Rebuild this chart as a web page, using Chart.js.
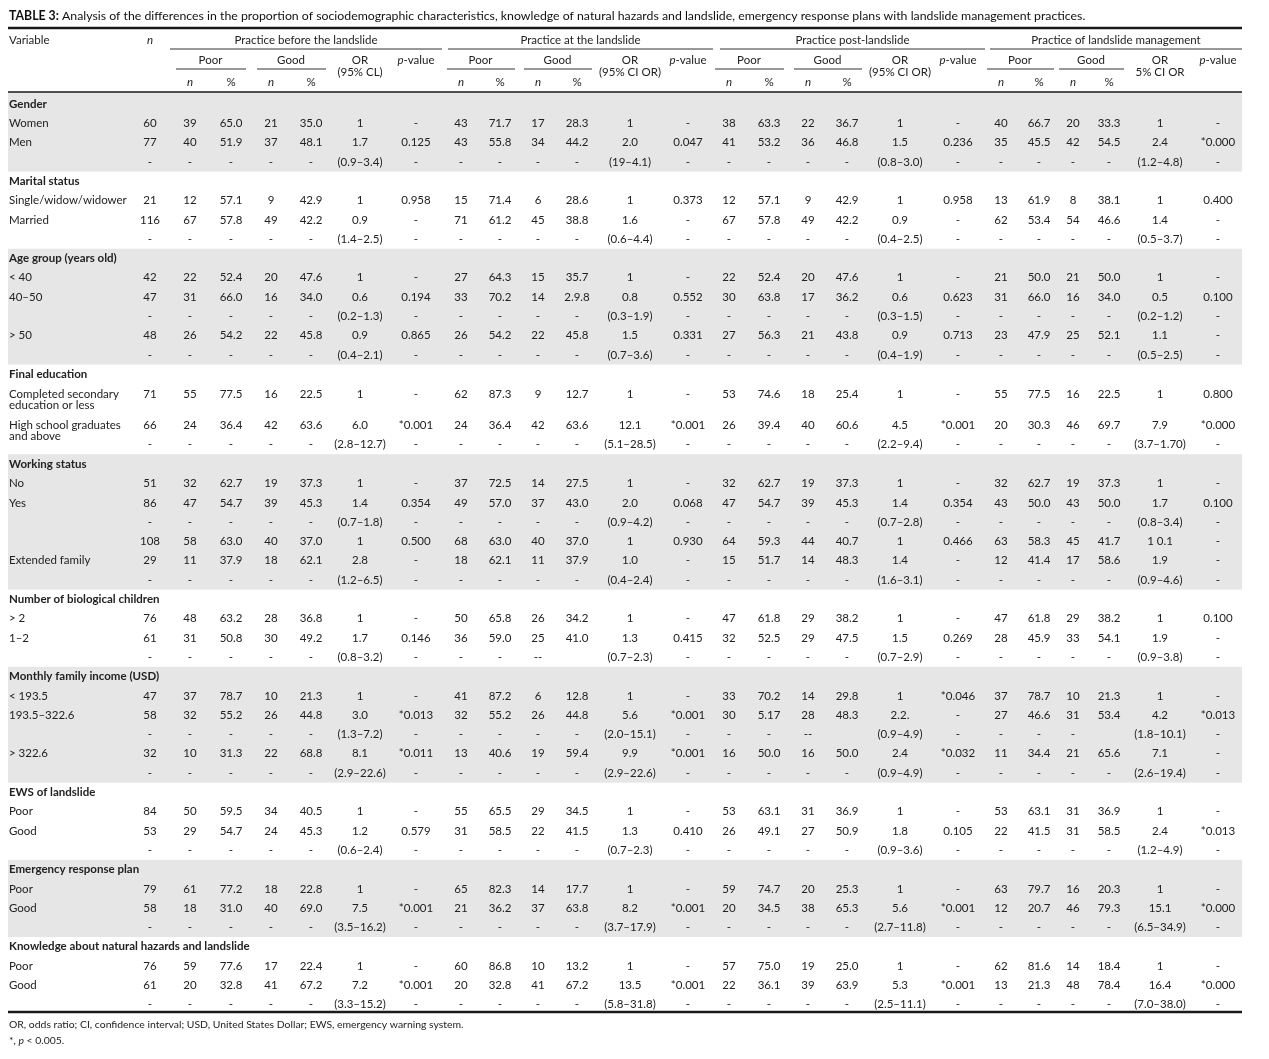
<!DOCTYPE html>
<html>
<head>
<meta charset="utf-8">
<script src="https://cdn.jsdelivr.net/npm/chart.js@4.4.1/dist/chart.umd.min.js"></script>
<style>
  html, body { margin: 0; padding: 0; background: #fff; }
  #wrap { position: relative; width: 1269px; height: 1059px; }
</style>
</head>
<body>
<div id="wrap"><canvas id="table" width="1269" height="1059"></canvas></div>
<script>
// ---- table content ----
const rowLabels = [
  'Gender', 'Women', 'Men', '',
  'Marital status', 'Single/widow/widower', 'Married', '',
  'Age group (years old)', '< 40', '40–50', '', '> 50', '',
  'Final education', 'Completed secondary\neducation or less', 'High school graduates\nand above', '',
  'Working status', 'No', 'Yes', '', '', 'Extended family', '',
  'Number of biological children', '> 2', '1–2', '',
  'Monthly family income (USD)', '< 193.5', '193.5–322.6', '', '> 322.6', '',
  'EWS of landslide', 'Poor', 'Good', '',
  'Emergency response plan', 'Poor', 'Good', '',
  'Knowledge about natural hazards and landslide', 'Poor', 'Good', ''
];

// null = section heading row
const totalN = [
  null, '60', '77', '-',
  null, '21', '116', '-',
  null, '42', '47', '-', '48', '-',
  null, '71', '66', '-',
  null, '51', '86', '-', '108', '29', '-',
  null, '76', '61', '-',
  null, '47', '58', '-', '32', '-',
  null, '84', '53', '-',
  null, '79', '58', '-',
  null, '76', '61', '-'
];

// each row: Poor n, Poor %, Good n, Good %, OR (CI), p-value  ("_" = empty cell)
const practiceBefore = [
  null, '39 65.0 21 35.0 1 -', '40 51.9 37 48.1 1.7 0.125', '- - - - (0.9–3.4) -',
  null, '12 57.1 9 42.9 1 0.958', '67 57.8 49 42.2 0.9 -', '- - - - (1.4–2.5) -',
  null, '22 52.4 20 47.6 1 -', '31 66.0 16 34.0 0.6 0.194', '- - - - (0.2–1.3) -',
  '26 54.2 22 45.8 0.9 0.865', '- - - - (0.4–2.1) -',
  null, '55 77.5 16 22.5 1 -', '24 36.4 42 63.6 6.0 *0.001', '- - - - (2.8–12.7) -',
  null, '32 62.7 19 37.3 1 -', '47 54.7 39 45.3 1.4 0.354', '- - - - (0.7–1.8) -',
  '58 63.0 40 37.0 1 0.500', '11 37.9 18 62.1 2.8 -', '- - - - (1.2–6.5) -',
  null, '48 63.2 28 36.8 1 -', '31 50.8 30 49.2 1.7 0.146', '- - - - (0.8–3.2) -',
  null, '37 78.7 10 21.3 1 -', '32 55.2 26 44.8 3.0 *0.013', '- - - - (1.3–7.2) -',
  '10 31.3 22 68.8 8.1 *0.011', '- - - - (2.9–22.6) -',
  null, '50 59.5 34 40.5 1 -', '29 54.7 24 45.3 1.2 0.579', '- - - - (0.6–2.4) -',
  null, '61 77.2 18 22.8 1 -', '18 31.0 40 69.0 7.5 *0.001', '- - - - (3.5–16.2) -',
  null, '59 77.6 17 22.4 1 -', '20 32.8 41 67.2 7.2 *0.001', '- - - - (3.3–15.2) -'
];

const practiceAt = [
  null, '43 71.7 17 28.3 1 -', '43 55.8 34 44.2 2.0 0.047', '- - - - (19–4.1) -',
  null, '15 71.4 6 28.6 1 0.373', '71 61.2 45 38.8 1.6 -', '- - - - (0.6–4.4) -',
  null, '27 64.3 15 35.7 1 -', '33 70.2 14 2.9.8 0.8 0.552', '- - - - (0.3–1.9) -',
  '26 54.2 22 45.8 1.5 0.331', '- - - - (0.7–3.6) -',
  null, '62 87.3 9 12.7 1 -', '24 36.4 42 63.6 12.1 *0.001', '- - - - (5.1–28.5) -',
  null, '37 72.5 14 27.5 1 -', '49 57.0 37 43.0 2.0 0.068', '- - - - (0.9–4.2) -',
  '68 63.0 40 37.0 1 0.930', '18 62.1 11 37.9 1.0 -', '- - - - (0.4–2.4) -',
  null, '50 65.8 26 34.2 1 -', '36 59.0 25 41.0 1.3 0.415', '- - -- _ (0.7–2.3) -',
  null, '41 87.2 6 12.8 1 -', '32 55.2 26 44.8 5.6 *0.001', '- - - - (2.0–15.1) -',
  '13 40.6 19 59.4 9.9 *0.001', '- - - - (2.9–22.6) -',
  null, '55 65.5 29 34.5 1 -', '31 58.5 22 41.5 1.3 0.410', '- - - - (0.7–2.3) -',
  null, '65 82.3 14 17.7 1 -', '21 36.2 37 63.8 8.2 *0.001', '- - - - (3.7–17.9) -',
  null, '60 86.8 10 13.2 1 -', '20 32.8 41 67.2 13.5 *0.001', '- - - - (5.8–31.8) -'
];

const practicePost = [
  null, '38 63.3 22 36.7 1 -', '41 53.2 36 46.8 1.5 0.236', '- - - - (0.8–3.0) -',
  null, '12 57.1 9 42.9 1 0.958', '67 57.8 49 42.2 0.9 -', '- - - - (0.4–2.5) -',
  null, '22 52.4 20 47.6 1 -', '30 63.8 17 36.2 0.6 0.623', '- - - - (0.3–1.5) -',
  '27 56.3 21 43.8 0.9 0.713', '- - - - (0.4–1.9) -',
  null, '53 74.6 18 25.4 1 -', '26 39.4 40 60.6 4.5 *0.001', '- - - - (2.2–9.4) -',
  null, '32 62.7 19 37.3 1 -', '47 54.7 39 45.3 1.4 0.354', '- - - - (0.7–2.8) -',
  '64 59.3 44 40.7 1 0.466', '15 51.7 14 48.3 1.4 -', '- - - - (1.6–3.1) -',
  null, '47 61.8 29 38.2 1 -', '32 52.5 29 47.5 1.5 0.269', '- - - - (0.7–2.9) -',
  null, '33 70.2 14 29.8 1 *0.046', '30 5.17 28 48.3 2.2. -', '- - -- _ (0.9–4.9) -',
  '16 50.0 16 50.0 2.4 *0.032', '- - - - (0.9–4.9) -',
  null, '53 63.1 31 36.9 1 -', '26 49.1 27 50.9 1.8 0.105', '- - - - (0.9–3.6) -',
  null, '59 74.7 20 25.3 1 -', '20 34.5 38 65.3 5.6 *0.001', '- - - - (2.7–11.8) -',
  null, '57 75.0 19 25.0 1 -', '22 36.1 39 63.9 5.3 *0.001', '- - - - (2.5–11.1) -'
];

const practiceManagement = [
  null, '40 66.7 20 33.3 1 -', '35 45.5 42 54.5 2.4 *0.000', '- - - - (1.2–4.8) -',
  null, '13 61.9 8 38.1 1 0.400', '62 53.4 54 46.6 1.4 -', '- - - - (0.5–3.7) -',
  null, '21 50.0 21 50.0 1 -', '31 66.0 16 34.0 0.5 0.100', '- - - - (0.2–1.2) -',
  '23 47.9 25 52.1 1.1 -', '- - - - (0.5–2.5) -',
  null, '55 77.5 16 22.5 1 0.800', '20 30.3 46 69.7 7.9 *0.000', '- - - - (3.7–1.70) -',
  null, '32 62.7 19 37.3 1 -', '43 50.0 43 50.0 1.7 0.100', '- - - - (0.8–3.4) -',
  '63 58.3 45 41.7 1\u00a00.1 -', '12 41.4 17 58.6 1.9 -', '- - - - (0.9–4.6) -',
  null, '47 61.8 29 38.2 1 0.100', '28 45.9 33 54.1 1.9 -', '- - - - (0.9–3.8) -',
  null, '37 78.7 10 21.3 1 -', '27 46.6 31 53.4 4.2 *0.013', '- - - _ (1.8–10.1) -',
  '11 34.4 21 65.6 7.1 -', '- - - - (2.6–19.4) -',
  null, '53 63.1 31 36.9 1 -', '22 41.5 31 58.5 2.4 *0.013', '- - - - (1.2–4.9) -',
  null, '63 79.7 16 20.3 1 -', '12 20.7 46 79.3 15.1 *0.000', '- - - - (6.5–34.9) -',
  null, '62 81.6 14 18.4 1 -', '13 21.3 48 78.4 16.4 *0.000', '- - - - (7.0–38.0) -'
];

const groupTitles = ['Practice before the landslide', 'Practice at the landslide',
  'Practice post-landslide', 'Practice of landslide management'];
const orHeaders = [['OR', '(95% CL)'], ['OR', '(95% CI OR)'], ['OR', '(95% CI OR)'], ['OR', '5% CI OR']];
const titleBold = 'TABLE 3:';
const titleText = ' Analysis of the differences in the proportion of sociodemographic characteristics, knowledge of natural hazards and landslide, emergency response plans with landslide management practices.';
const footnote = 'OR, odds ratio; CI, confidence interval; USD, United States Dollar; EWS, emergency warning system.';

// ---- layout ----
const PAGE_W = 1269, PAGE_H = 1059;
const LEFT = 8, RIGHT = 1242;
const LABEL_X = 9, N_X = 150;
const GROUP_COLS = [
  [190, 231, 271, 311, 360, 416],
  [461, 500, 538, 577, 630, 688],
  [729, 769, 808, 847, 900, 958],
  [1001, 1039, 1073, 1109, 1160, 1218]
];
const GROUP_SPAN = [[170, 442], [448, 713], [720, 985], [990, 1242]];
const Y = { title: 16, topRule: 28, h1: 40, h1Rule: 49, h2: 60, h2Rule: 69, h3: 82, headRule: 92, bottomRule: 1012, foot1: 1025, foot2: 1041 };
const FIRST_ROW_Y = 104, ROW_STEP = 19.3, LINE_H = 11.5;
const EXTRA_GAP = { 15: 0.7, 16: 11.7, 17: -0.3, 18: 0.7 };
const FONT = 'Lato, "Open Sans", sans-serif';
const BODY_SIZE = 11.5, TITLE_SIZE = 12.3, FOOT_SIZE = 10.4;
const TEXT = '#222', SHADE = '#e6e6e6';

const rowY = [];
rowLabels.forEach((_, i) => {
  rowY.push(i === 0 ? FIRST_ROW_Y : rowY[i - 1] + ROW_STEP + (EXTRA_GAP[i] || 0));
});

// ---- build cells ----
const cells = [];
const put = (x, y, parts, opts = {}) => {
  if (typeof parts === 'string') parts = [{ t: parts }];
  cells.push({ x, y, parts, align: opts.align || 'center', weight: opts.weight || 'normal', size: opts.size || BODY_SIZE, color: opts.color || TEXT });
};

put(LABEL_X, Y.title, [{ t: titleBold, b: true }, { t: titleText }], { align: 'left', size: TITLE_SIZE, color: '#111' });
put(LABEL_X, Y.h1, 'Variable', { align: 'left' });
put(N_X, Y.h1, [{ t: 'n', it: true }]);
groupTitles.forEach((g, k) => {
  const cols = GROUP_COLS[k];
  put((GROUP_SPAN[k][0] + GROUP_SPAN[k][1]) / 2, Y.h1, g);
  put((cols[0] + cols[1]) / 2, Y.h2, 'Poor');
  put((cols[2] + cols[3]) / 2, Y.h2, 'Good');
  put(cols[4], Y.h2, orHeaders[k][0]);
  put(cols[4], Y.h2 + 12, orHeaders[k][1]);
  put(cols[5], Y.h2, [{ t: 'p', it: true }, { t: '-value' }]);
  [0, 2].forEach(c => {
    put(cols[c], Y.h3, [{ t: 'n', it: true }]);
    put(cols[c + 1], Y.h3, '%');
  });
});

const practices = [practiceBefore, practiceAt, practicePost, practiceManagement];
rowLabels.forEach((label, r) => {
  const heading = totalN[r] === null;
  label.split('\n').forEach((line, j) => {
    if (line) put(LABEL_X, rowY[r] + j * LINE_H, line, { align: 'left', weight: heading ? 'bold' : 'normal' });
  });
  if (heading) return;
  put(N_X, rowY[r], totalN[r]);
  practices.forEach((rows, k) => {
    rows[r].split(' ').forEach((v, c) => {
      if (v !== '_') put(GROUP_COLS[k][c], rowY[r], v);
    });
  });
});

put(LABEL_X, Y.foot1, footnote, { align: 'left', size: FOOT_SIZE });
put(LABEL_X, Y.foot2, [{ t: '*, ' }, { t: 'p', it: true }, { t: ' < 0.005.' }], { align: 'left', size: FOOT_SIZE });

// shaded sections: every other section starting with the first
const sectionStarts = totalN.map((v, i) => (v === null ? i : -1)).filter(i => i >= 0);

const fontOf = (p, cell) => `${p.it ? 'italic ' : ''}${p.b ? 'bold' : cell.weight} ${cell.size}px ${FONT}`;

const tablePlugin = {
  id: 'tableDraw',
  beforeDatasetsDraw(chart) {
    const { ctx, scales: { x, y } } = chart;
    ctx.save();
    // section bands
    ctx.fillStyle = SHADE;
    sectionStarts.forEach((start, k) => {
      if (k % 2) return;
      const end = (sectionStarts[k + 1] || rowLabels.length) - 1;
      const top = k === 0 ? Y.headRule : (rowY[start - 1] + rowY[start]) / 2;
      const bot = end === rowLabels.length - 1 ? Y.bottomRule : (rowY[end] + rowY[end + 1]) / 2;
      ctx.fillRect(x.getPixelForValue(LEFT), y.getPixelForValue(top),
        x.getPixelForValue(RIGHT) - x.getPixelForValue(LEFT), y.getPixelForValue(bot) - y.getPixelForValue(top));
    });
    // rules
    const hline = (x0, x1, yy, w) => {
      ctx.lineWidth = w;
      ctx.beginPath();
      ctx.moveTo(x.getPixelForValue(x0), y.getPixelForValue(yy));
      ctx.lineTo(x.getPixelForValue(x1), y.getPixelForValue(yy));
      ctx.stroke();
    };
    ctx.strokeStyle = '#1a1a1a';
    hline(LEFT, RIGHT, Y.topRule, 2.5);
    hline(LEFT, RIGHT, Y.headRule, 1.5);
    hline(LEFT, RIGHT, Y.bottomRule, 2.5);
    ctx.strokeStyle = '#333';
    GROUP_SPAN.forEach(([a, b], k) => {
      hline(a, b, Y.h1Rule, 1);
      const cols = GROUP_COLS[k];
      hline(cols[0] - 14, cols[1] + 15, Y.h2Rule, 1);
      hline(cols[2] - 14, cols[3] + 15, Y.h2Rule, 1);
    });
    ctx.restore();
  },
  afterDatasetsDraw(chart) {
    const ctx = chart.ctx;
    const ds = chart.data.datasets[0].data;
    ctx.save();
    ctx.textBaseline = 'middle';
    ctx.textAlign = 'left';
    chart.getDatasetMeta(0).data.forEach((pt, i) => {
      const cell = ds[i];
      let w = 0;
      cell.parts.forEach(p => { ctx.font = fontOf(p, cell); w += ctx.measureText(p.t).width; });
      let cx = cell.align === 'center' ? pt.x - w / 2 : pt.x;
      ctx.fillStyle = cell.color;
      cell.parts.forEach(p => {
        ctx.font = fontOf(p, cell);
        ctx.fillText(p.t, cx, pt.y);
        cx += ctx.measureText(p.t).width;
      });
    });
    ctx.restore();
  }
};

const draw = () => new Chart(document.getElementById('table'), {
  type: 'scatter',
  data: { datasets: [{ data: cells, pointRadius: 0, pointHoverRadius: 0 }] },
  options: {
    responsive: false,
    animation: false,
    events: [],
    layout: { padding: 0 },
    scales: {
      x: { type: 'linear', min: 0, max: PAGE_W, display: false },
      y: { type: 'linear', min: 0, max: PAGE_H, reverse: true, display: false }
    },
    plugins: { legend: { display: false }, tooltip: { enabled: false } }
  },
  plugins: [tablePlugin]
});

if (document.fonts && document.fonts.load) {
  Promise.all(['11px Lato', 'bold 11px Lato', 'italic 11px Lato'].map(f => document.fonts.load(f)))
    .then(draw, draw);
} else {
  draw();
}
</script>
</body>
</html>
